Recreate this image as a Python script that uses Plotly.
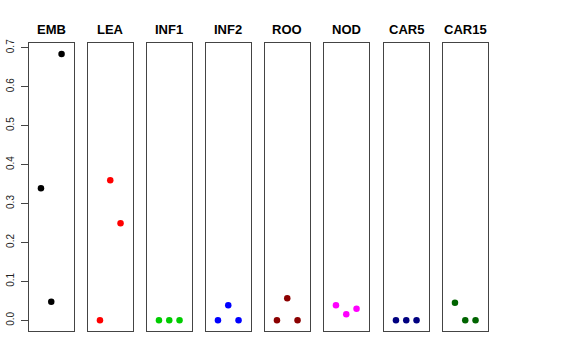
import plotly.graph_objects as go

categories = ["EMB", "LEA", "INF1", "INF2", "ROO", "NOD", "CAR5", "CAR15"]
positions = [1, 2, 3]
values = {
    "EMB":   [0.339, 0.048, 0.684],
    "LEA":   [0.0, 0.360, 0.249],
    "INF1":  [0.0, 0.0, 0.0],
    "INF2":  [0.0, 0.0385, 0.0],
    "ROO":   [0.0, 0.057, 0.0],
    "NOD":   [0.0385, 0.0154, 0.030],
    "CAR5":  [0.0, 0.0, 0.0],
    "CAR15": [0.045, 0.0, 0.0],
}
colors = ["#000000", "#FF0000", "#00CD00", "#0000FF", "#8B0000", "#FF00FF", "#000080", "#006400"]
ytick_vals = [0.0, 0.1, 0.2, 0.3, 0.4, 0.5, 0.6, 0.7]
ytick_text = ["0.0", "0.1", "0.2", "0.3", "0.4", "0.5", "0.6", "0.7"]

W, H = 576, 360
panel_left = [29, 88, 147, 206, 265, 324, 384, 443]
panel_w = 44.5
top_px, bot_px = 43.3, 331

fig = go.Figure()
layout = dict(
    width=W, height=H,
    margin=dict(l=0, r=0, t=0, b=0),
    paper_bgcolor="white", plot_bgcolor="white",
    showlegend=False,
    font=dict(family="Liberation Sans, Arial, sans-serif", color="#000000"),
)
annotations = []
for i, cat in enumerate(categories):
    n = i + 1
    xa = "x" if n == 1 else f"x{n}"
    ya = "y" if n == 1 else f"y{n}"
    fig.add_trace(go.Scatter(
        x=positions, y=values[cat], mode="markers",
        marker=dict(color=colors[i], size=6.5, line=dict(width=0)),
        xaxis=xa, yaxis=ya, hoverinfo="skip"))
    x0 = panel_left[i] / W
    x1 = (panel_left[i] + panel_w) / W
    xkey = "xaxis" if n == 1 else f"xaxis{n}"
    ykey = "yaxis" if n == 1 else f"yaxis{n}"
    layout[xkey] = dict(
        domain=[x0, x1], range=[-0.16, 4.16], anchor=ya, automargin=False,
        showgrid=False, zeroline=False, showticklabels=False, ticks="",
        showline=True, mirror=True, linecolor="#444444", linewidth=1)
    ydict = dict(
        domain=[1 - bot_px / H, 1 - top_px / H], range=[-0.0274, 0.7114], anchor=xa,
        automargin=False, showgrid=False, zeroline=False,
        showline=True, mirror=True, linecolor="#444444", linewidth=1)
    if n == 1:
        ydict.update(tickmode="array", tickvals=ytick_vals, ticktext=ytick_text,
                     ticks="outside", ticklen=7, tickcolor="#444444", tickwidth=1,
                     ticklabelstandoff=3,
                     tickangle=-90, tickfont=dict(size=10, color="#222222"))
    else:
        ydict.update(showticklabels=False, ticks="")
    layout[ykey] = ydict
    annotations.append(dict(
        text=f"<b>{cat}</b>", x=(x0 + x1) / 2, y=1 - 29.7 / H,
        xref="paper", yref="paper", xanchor="center", yanchor="middle",
        showarrow=False, font=dict(size=13, color="#000000")))
layout["annotations"] = annotations
fig.update_layout(**layout)
fig.write_html("out.html", config={"displayModeBar": False},
               post_script="document.body.style.margin='0';document.body.style.padding='0';")
